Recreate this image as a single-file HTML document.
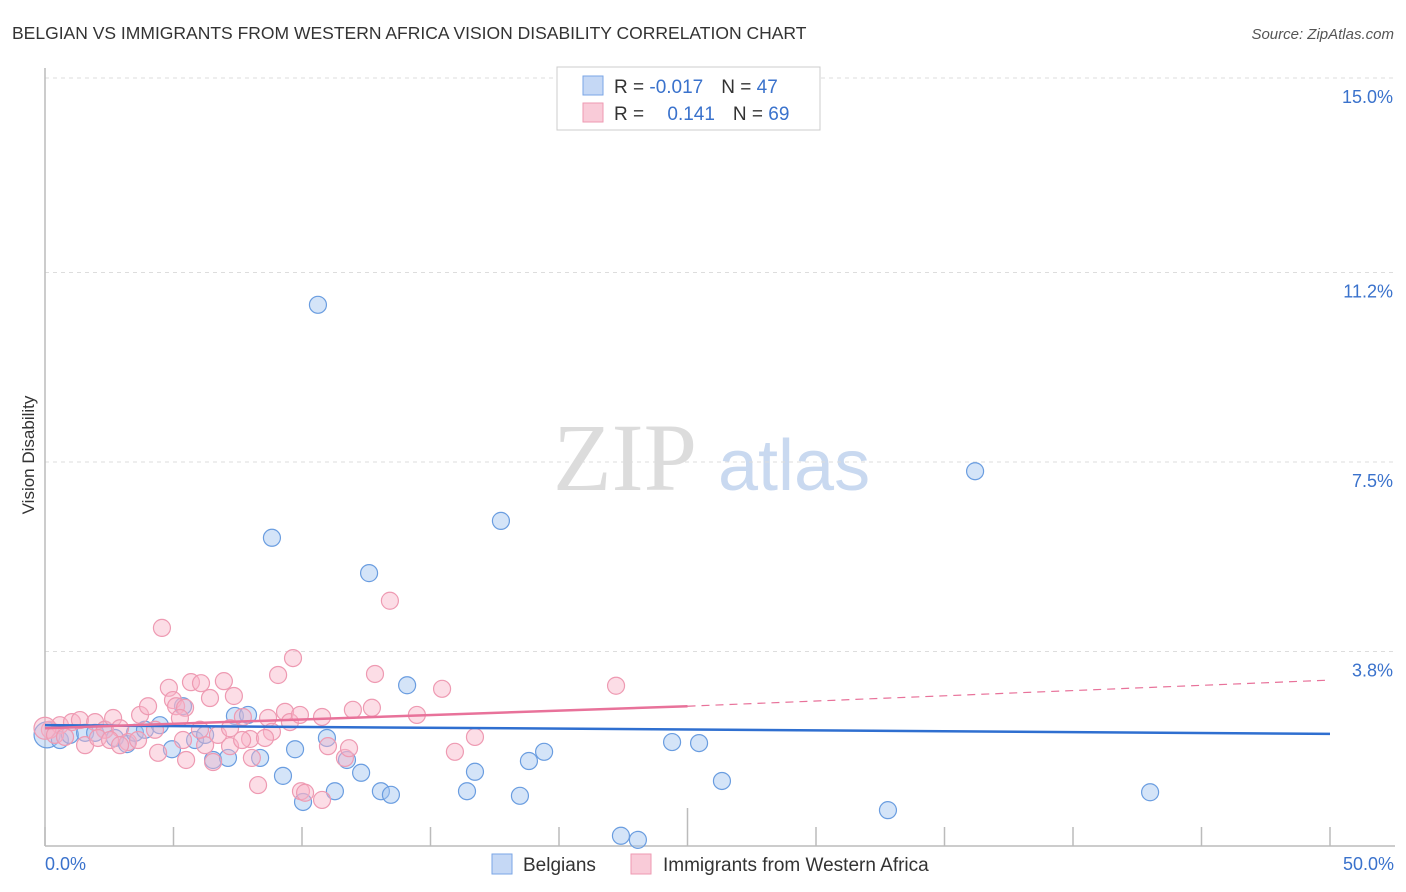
<!DOCTYPE html>
<html><head><meta charset="utf-8"><style>
body{margin:0;background:#fff;font-family:"Liberation Sans",sans-serif;}
svg{display:block}
</style></head><body>
<svg width="1406" height="892" xmlns="http://www.w3.org/2000/svg">
<text x="12" y="39" font-size="17.5" fill="#333">BELGIAN VS IMMIGRANTS FROM WESTERN AFRICA VISION DISABILITY CORRELATION CHART</text>
<text x="1394" y="39" font-size="15" fill="#555" font-style="italic" text-anchor="end">Source: ZipAtlas.com</text>
<g>
<text x="553" y="490" font-family="Liberation Serif,serif" font-size="96" fill="#dcdcdc">ZIP</text>
<text x="718" y="490" font-size="72" fill="#c9d9f0">atlas</text>
</g>
<g id="grid"></g>
<g id="axes"></g>
<g id="marks"></g>
<g id="trends"></g>
<text transform="translate(34,455) rotate(-90)" font-size="17" fill="#333" text-anchor="middle">Vision Disability</text>
<g>
<rect x="557" y="67" width="263" height="63" fill="#fff" stroke="#ccc"/>
<rect x="583" y="76" width="20" height="19" fill="#c5d8f5" stroke="#7aa6e6"/>
<rect x="583" y="103" width="20" height="19" fill="#f9cbd8" stroke="#ee9ab2"/>
<text x="614" y="93" font-size="19" fill="#333">R = <tspan fill="#3a72cc">-0.017</tspan><tspan dx="18">N = </tspan><tspan fill="#3a72cc">47</tspan></text>
<text x="614" y="120" font-size="19" fill="#333">R = <tspan dx="18" fill="#3a72cc">0.141</tspan><tspan dx="18">N = </tspan><tspan fill="#3a72cc">69</tspan></text>
</g>
<g>
<rect x="492" y="854" width="20" height="20" fill="#c5d8f5" stroke="#7aa6e6"/>
<text x="523" y="871" font-size="19" fill="#333">Belgians</text>
<rect x="631" y="854" width="20" height="20" fill="#f9cbd8" stroke="#ee9ab2"/>
<text x="663" y="871" font-size="19" fill="#333">Immigrants from Western Africa</text>
</g>
</svg>
<script>
const yTicks=[3.8,7.5,11.2,15.0];
const yTickLabels=["3.8%","7.5%","11.2%","15.0%"];
const xTickLabels=["0.0%","50.0%"];
const blueX=[0.08,0.58,0.97,1.56,1.95,2.33,2.72,3.19,3.50,3.89,4.47,4.94,5.37,5.84,6.23,6.54,7.12,7.39,7.90,8.37,9.26,9.73,10.04,10.62,10.97,11.28,11.75,12.30,12.61,13.07,13.46,14.09,16.42,16.73,17.74,18.48,18.83,19.42,22.41,23.07,24.40,25.45,26.34,32.80,36.19,43.00,8.83];
const blueY=[2.17,2.07,2.17,2.21,2.21,2.27,2.11,1.99,2.21,2.27,2.36,1.89,2.73,2.07,2.17,1.68,1.72,2.54,2.56,1.72,1.37,1.89,0.86,10.57,2.11,1.07,1.68,1.43,5.33,1.07,1.00,3.14,1.07,1.45,6.35,0.98,1.66,1.84,0.20,0.12,2.03,2.01,1.27,0.70,7.32,1.05,6.02];
const pinkX=[4.55,4.82,4.98,5.10,5.45,5.68,6.07,6.42,6.96,7.35,7.70,9.07,9.65,13.42,12.84,15.45,22.22,0.19,0.58,1.05,1.36,1.95,2.33,2.65,2.92,3.70,4.01,3.23,1.56,4.40,5.49,6.23,6.73,6.54,7.20,8.05,8.29,8.68,8.83,9.34,9.53,10.78,11.01,11.67,11.83,11.98,12.72,14.47,15.95,16.73,9.96,10.12,10.78,7.98,8.56,4.28,0.00,0.39,2.06,3.62,5.37,6.03,5.25,2.53,7.67,0.78,9.92,7.20,2.92];
const pinkY=[4.26,3.09,2.85,2.73,2.70,3.20,3.18,2.89,3.22,2.93,2.52,3.34,3.67,4.79,3.36,3.07,3.13,2.27,2.36,2.42,2.46,2.42,2.27,2.50,2.30,2.56,2.73,2.03,1.97,1.82,1.68,1.97,2.17,1.64,1.95,1.72,1.19,2.50,2.23,2.62,2.42,2.52,1.95,1.72,1.91,2.66,2.70,2.56,1.84,2.13,1.07,1.04,0.90,2.09,2.11,2.27,2.30,2.17,2.11,2.07,2.07,2.27,2.50,2.07,2.07,2.13,2.56,2.30,1.97];
const blueTrend=[2.36,2.19];
const pinkTrend=[2.30,2.73,3.24];
const X0=45,X1=1330,YT=78,YB=846;
const sx=v=>X0+(v/50)*(X1-X0);
const sy=v=>YB-(v/15)*(YB-YT);
const NS="http://www.w3.org/2000/svg";
function mk(parent,tag,attrs){const e=document.createElementNS(NS,tag);for(const k in attrs)e.setAttribute(k,attrs[k]);document.getElementById(parent).appendChild(e);return e;}
yTicks.forEach((t,i)=>{
 const l=mk('grid','line',{x1:X0,x2:1395,y1:sy(t),y2:sy(t),stroke:'#ddd','stroke-dasharray':'4,4'});
 
 
 const tx=mk('grid','text',{x:1393,y:sy(t)+25,'font-size':18,fill:'#3a72cc','text-anchor':'end'});
 tx.textContent=yTickLabels[i];
 
 
});
const ax=mk('axes','line',{x1:X0,x2:1395,y1:YB,y2:YB,stroke:'#bbb','stroke-width':1.5});


const ay=mk('axes','line',{x1:X0,x2:X0,y1:68,y2:YB,stroke:'#bbb','stroke-width':1.5});


for(let i=0;i<=10;i++){
 const v=i*5;
 const t=mk('axes','line',{x1:sx(v),x2:sx(v),y1:(i==5?808:827),y2:YB,stroke:'#bbb','stroke-width':1.5});
 
 
}
[[0,'start',45],[50,'end',1394]].forEach((p,i)=>{
 const tx=mk('axes','text',{x:p[2],y:870,'font-size':18,fill:'#3a72cc','text-anchor':p[1]});
 tx.textContent=xTickLabels[i];
 
 
});
blueX.forEach((x,i)=>{
 const c=mk('marks','circle',{cx:sx(x),cy:sy(blueY[i]),r:(i==0?13:8.5),fill:'rgba(160,195,240,0.45)',stroke:'#6a9de0','stroke-width':1.2});
 
 
});
pinkX.forEach((x,i)=>{
 const c=mk('marks','circle',{cx:sx(x),cy:sy(pinkY[i]),r:(i==56?11:8.5),fill:'rgba(248,180,200,0.45)',stroke:'#ee9ab2','stroke-width':1.2});
 
 
});
const bl=mk('trends','line',{x1:sx(0),y1:sy(blueTrend[0]),x2:sx(50),y2:sy(blueTrend[1]),stroke:'#2f6fd0','stroke-width':2.5});


const pl=mk('trends','line',{x1:sx(0),y1:sy(pinkTrend[0]),x2:sx(25),y2:sy(pinkTrend[1]),stroke:'#e8729a','stroke-width':2.5});


const pd=mk('trends','line',{x1:sx(25),y1:sy(pinkTrend[1]),x2:sx(50),y2:sy(pinkTrend[2]),stroke:'#e8729a','stroke-width':1.2,'stroke-dasharray':'8,6'});


</script>
</body></html>
